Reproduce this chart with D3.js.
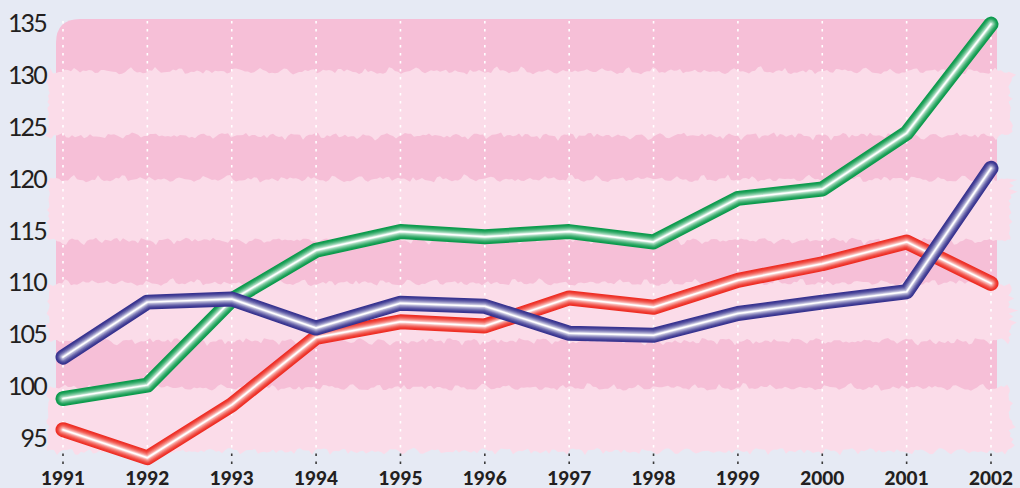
<!DOCTYPE html>
<html><head><meta charset="utf-8">
<script src="https://cdn.jsdelivr.net/npm/d3@7"></script>
<style>
html,body{margin:0;padding:0;background:#e6eaf4;}
svg{display:block;}
</style></head>
<body>
<svg id="c" width="1020" height="488"></svg>
<script>
const years = [1991,1992,1993,1994,1995,1996,1997,1998,1999,2000,2001,2002];
const greenValues = [98.7,100.0,108.2,113.0,114.8,114.3,114.8,113.8,118.0,118.9,124.3,134.8];
const blueValues  = [102.7,108.0,108.3,105.5,107.9,107.6,105.0,104.8,106.9,108.0,109.0,120.9];
const redValues   = [95.7,93.0,98.1,104.6,106.1,105.7,108.4,107.5,110.1,111.7,113.8,109.8];
const yTicks = [95,100,105,110,115,120,125,130,135];
const lightBands = [[130.2,124.1],[119.8,114.0],[109.8,104.3],[99.7,93.7]];

const svg = d3.select("#c");
const x = d3.scaleLinear().domain([1991,2002]).range([63,991]);
const y = d3.scaleLinear().domain([95,135]).range([437,22]);

const plotL = 56, plotR = 997, plotT = 19;

// deterministic rough-edge noise (decoration only)
function noise(t, s){
  return 0.55*Math.sin(t*0.83+s) + 0.3*Math.sin(t*2.17+s*1.7) + 0.25*Math.sin(t*0.21+s*2.3)
       + (Math.sin(t*5.3+s*3.1) > 0.8 ? 1.2 : 0);
}

// dark pink base with rounded top-left corner
const darkBottom = y(97);
const r = 24;
svg.append("path")
  .attr("d", `M${plotL},${darkBottom} L${plotL},${plotT+r} Q${plotL},${plotT} ${plotL+r},${plotT} L${plotR},${plotT} L${plotR},${darkBottom} Z`)
  .attr("fill", "#f6bfd7");

// light ragged bands
lightBands.forEach((b, i) => {
  const yt = y(b[0]), yb = y(b[1]);
  const s = i*3.7 + 1;
  const pts = [];
  const leftX = 50, rightX = 1008;
  for (let px = leftX; px <= rightX; px += 3) pts.push([px, yt - 2.5*noise(px*0.35, s)]);
  for (let py = yt; py <= yb; py += 3) pts.push([rightX + 5*Math.abs(noise(py*0.6, s+2)), py]);
  for (let px = rightX; px >= leftX; px -= 3) pts.push([px, yb + 2.5*noise(px*0.33, s+5)]);
  for (let py = yb; py >= yt; py -= 3) pts.push([leftX - 3*Math.abs(noise(py*0.7, s+4)), py]);
  svg.append("path")
    .attr("d", d3.line()(pts) + "Z")
    .attr("fill", "#fbdce9");
});

// vertical dashed gridlines
const bottomBand = y(lightBands[3][1]);
svg.append("g").selectAll("line").data(years).join("line")
  .attr("x1", d => x(d)).attr("x2", d => x(d))
  .attr("y1", plotT + 2).attr("y2", bottomBand - 2)
  .attr("stroke", "#ffffff").attr("stroke-width", 1.6)
  .attr("stroke-dasharray", "2.5,5.5");
svg.append("g").selectAll("line").data(years).join("line")
  .attr("x1", d => x(d)).attr("x2", d => x(d))
  .attr("y1", bottomBand + 3).attr("y2", 466)
  .attr("stroke", "#3a3a3a").attr("stroke-width", 1.6)
  .attr("stroke-dasharray", "2.5,5.5");

// tube lines
const line = d3.line().x((d,i) => x(years[i])).y(d => y(d));
function tube(values, dark){
  const g = svg.append("g");
  const widths = [15, 13, 11, 9, 7, 5, 3, 1.5];
  const n = widths.length;
  widths.forEach((w, k) => {
    const t = Math.pow(k/(n-1), 1.6);
    g.append("path").attr("d", line(values))
      .attr("fill", "none").attr("stroke", d3.interpolateRgb(dark, "#ffffff")(t)).attr("stroke-width", w)
      .attr("stroke-linecap", "round").attr("stroke-linejoin", "round");
  });
}
tube(redValues, "#ee2e24");
tube(greenValues, "#0b9a4c");
tube(blueValues, "#37338f");

// y-axis labels
svg.append("g").selectAll("text").data(yTicks).join("text")
  .attr("x", 46).attr("y", d => y(d))
  .attr("text-anchor", "end").attr("dominant-baseline", "central")
  .attr("font-family", "Lato, sans-serif").attr("font-size", 25)
  .attr("letter-spacing", -1.8)
  .attr("fill", "#231f20")
  .text(d => d);

// x-axis labels
svg.append("g").selectAll("text").data(years).join("text")
  .attr("x", d => x(d)).attr("y", 485)
  .attr("text-anchor", "middle")
  .attr("font-family", "Lato, sans-serif").attr("font-size", 19).attr("font-weight", 900)
  .attr("fill", "#231f20")
  .text(d => d);
</script>
</body></html>
